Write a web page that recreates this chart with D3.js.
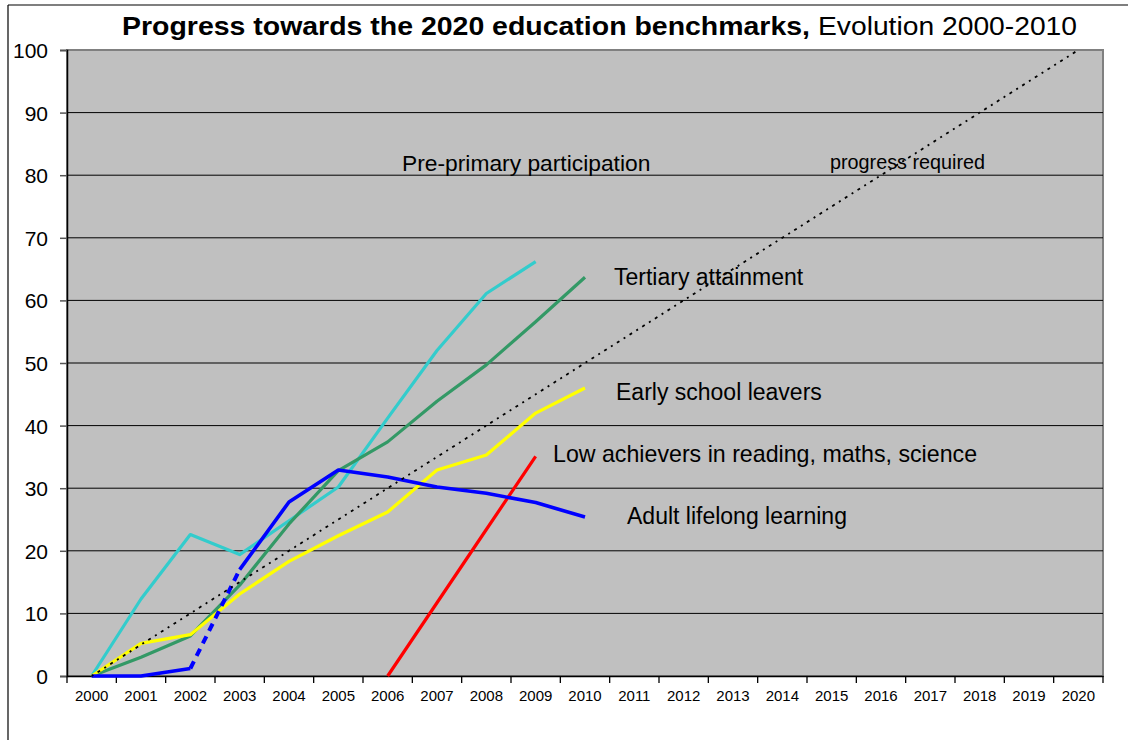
<!DOCTYPE html>
<html>
<head>
<meta charset="utf-8">
<script src="https://cdn.jsdelivr.net/npm/d3@7"></script>
<style>
  html, body { margin: 0; padding: 0; background: #fff; }
  svg { display: block; font-family: "Liberation Sans", Arial, sans-serif; }
</style>
</head>
<body>
<svg id="chart" width="1128" height="740"></svg>
<script>
// ---- data ----
const years = ["2000","2001","2002","2003","2004","2005","2006","2007","2008","2009","2010",
               "2011","2012","2013","2014","2015","2016","2017","2018","2019","2020"];
const yTicks = [0,10,20,30,40,50,60,70,80,90,100];

const preprimaryYears = ["2000","2001","2002","2003","2004","2005","2006","2007","2008","2009"];
const preprimary      = [0, 12.3, 22.6, 19.4, 24.8, 30.2, 41.2, 52.0, 61.1, 66.2];

const tertiaryYears = ["2000","2001","2002","2003","2004","2005","2006","2007","2008","2009","2010"];
const tertiary      = [0, 3.0, 6.4, 14.5, 24.3, 32.8, 37.4, 43.9, 49.7, 56.6, 63.7];

const earlyYears = ["2000","2001","2002","2003","2004","2005","2006","2007","2008","2009","2010"];
const early      = [0, 5.2, 6.6, 13.1, 18.3, 22.4, 26.2, 32.9, 35.3, 42.0, 46.0];

const lowYears = ["2006","2007","2008","2009"];
const low      = [0, 11.7, 23.4, 35.1];

const adultYearsA = ["2000","2001","2002"];
const adultA      = [0, 0, 1.2];
const adultYearsGap = ["2002","2003"];
const adultGap      = [1.2, 17.0];
const adultYearsB = ["2003","2004","2005","2006","2007","2008","2009","2010"];
const adultB      = [17.0, 27.8, 32.9, 31.8, 30.2, 29.2, 27.7, 25.4];

const requiredYears = years;
const required = [0,5,10,15,20,25,30,35,40,45,50,55,60,65,70,75,80,85,90,95,100];

const labels = [
  {text: "Pre-primary participation", x: 402, y: 170.5, size: 22.8},
  {text: "progress required", x: 830, y: 168.5, size: 19.8},
  {text: "Tertiary attainment", x: 614, y: 284.5, size: 23},
  {text: "Early school leavers", x: 616, y: 399.5, size: 23},
  {text: "Low achievers in reading, maths, science", x: 553, y: 462, size: 23.2},
  {text: "Adult lifelong learning", x: 627, y: 524, size: 23}
];

// ---- layout ----
const svg = d3.select("#chart");
const L = 67, R = 1103, T = 50, B = 676;

const xBand = d3.scaleBand().domain(years).range([L, R]).padding(0);
const xc = yr => xBand(yr) + xBand.bandwidth() / 2;
const y = d3.scaleLinear().domain([0, 100]).range([B, T]);

// outer frame
svg.append("line").attr("x1", 8).attr("y1", 5).attr("x2", 1128).attr("y2", 5)
  .attr("stroke", "#000").attr("stroke-width", 1.2);
svg.append("line").attr("x1", 8).attr("y1", 5).attr("x2", 8).attr("y2", 740)
  .attr("stroke", "#000").attr("stroke-width", 1.2);

// plot background
svg.append("rect").attr("x", L).attr("y", T).attr("width", R - L).attr("height", B - T)
  .attr("fill", "#C0C0C0").attr("stroke", "#808080").attr("stroke-width", 2);

// gridlines
svg.append("g").selectAll("line").data(yTicks.filter(d => d > 0 && d < 100)).join("line")
  .attr("x1", L).attr("x2", R).attr("y1", d => y(d)).attr("y2", d => y(d))
  .attr("stroke", "#000").attr("stroke-width", 1);

// y axis
const yAxis = d3.axisLeft(y).tickValues(yTicks).tickSize(7).tickPadding(12);
const gy = svg.append("g").attr("transform", `translate(${L},0)`).call(yAxis);
gy.select(".domain").attr("stroke", "#000").attr("stroke-width", 1.5);
gy.selectAll(".tick line").attr("stroke", "#555").attr("stroke-width", 1.5);
gy.selectAll(".tick text").attr("font-size", 21).attr("fill", "#000")
  .attr("font-family", "Liberation Sans, Arial, sans-serif").attr("dy", "0.36em");

// x axis (ticks between categories)
const gx = svg.append("g").attr("transform", `translate(0,${B})`)
  .call(d3.axisBottom(xBand).tickSize(0).tickPadding(14));
gx.select(".domain").attr("stroke", "#000").attr("stroke-width", 1.5);
gx.selectAll(".tick text").attr("font-size", 15).attr("fill", "#000")
  .attr("font-family", "Liberation Sans, Arial, sans-serif");
const bounds = years.map(d => xBand(d)).concat([R]);
svg.append("g").selectAll("line").data(bounds).join("line")
  .attr("x1", d => d).attr("x2", d => d).attr("y1", B).attr("y2", B + 7)
  .attr("stroke", "#000").attr("stroke-width", 1.3);

// lines
const line = d3.line().x(d => xc(d[0])).y(d => y(d[1]));
function drawSeries(yrs, vals, color, width, dash) {
  const pts = yrs.map((yr, i) => [yr, vals[i]]);
  const p = svg.append("path").datum(pts).attr("d", line)
    .attr("fill", "none").attr("stroke", color).attr("stroke-width", width)
    .attr("stroke-linejoin", "round");
  if (dash) p.attr("stroke-dasharray", dash);
  return p;
}
drawSeries(preprimaryYears, preprimary, "#33CCCC", 3.2);
drawSeries(tertiaryYears, tertiary, "#339966", 3.2);
drawSeries(earlyYears, early, "#FFFF00", 3.2);
drawSeries(lowYears, low, "#FF0000", 3.2);
drawSeries(adultYearsA, adultA, "#0000FF", 3.6);
drawSeries(adultYearsGap, adultGap, "#0000FF", 4, "8,6");
drawSeries(adultYearsB, adultB, "#0000FF", 3.6);
drawSeries(requiredYears, required, "#000", 1.8, "2,5,3,5");

// labels
svg.append("g").selectAll("text").data(labels).join("text")
  .attr("x", d => d.x).attr("y", d => d.y).attr("font-size", d => d.size)
  .attr("fill", "#000").text(d => d.text);

// title
svg.append("text").attr("x", 122).attr("y", 35).attr("font-size", 26)
  .attr("font-weight", "bold").attr("textLength", 688).attr("lengthAdjust", "spacingAndGlyphs")
  .text("Progress towards the 2020 education benchmarks,");
svg.append("text").attr("x", 818).attr("y", 35).attr("font-size", 26)
  .attr("textLength", 259).attr("lengthAdjust", "spacingAndGlyphs")
  .text("Evolution 2000-2010");
</script>
</body>
</html>
